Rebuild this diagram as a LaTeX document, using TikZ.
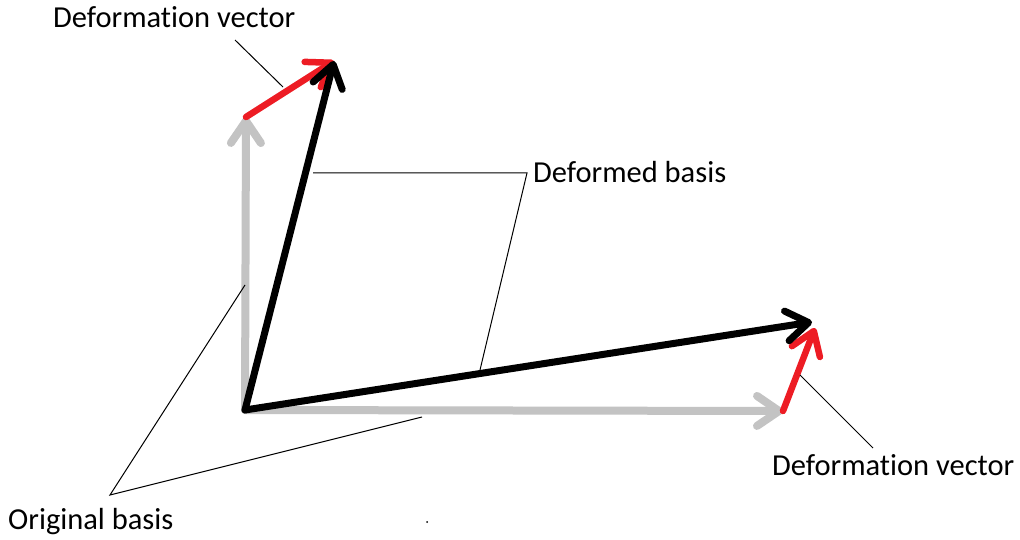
\documentclass[tikz,border=0pt]{standalone}
\usepackage{fontspec}
\setmainfont[Ligatures=NoCommon]{Carlito}
\usetikzlibrary{arrows.meta}
\definecolor{basisgray}{RGB}{195,195,195}
\definecolor{defred}{RGB}{237,28,36}
\begin{document}
\begin{tikzpicture}[x=1pt,y=-1pt,
  vec/.style={line width=6.5pt, line cap=round, -{Straight Barb[round,length=22pt,width=30pt]}},
  origvec/.style={vec, draw=basisgray, line width=8pt},
  defvec/.style={vec, draw=defred},
  newvec/.style={vec, draw=black, line width=7pt},
  leader/.style={draw=black, line width=1pt},
  lbl/.style={inner sep=0pt, anchor=base west, font=\fontsize{30.5}{36}\selectfont}]
\useasboundingbox (0,0) rectangle (1020,540);
\fill[white] (0,0) rectangle (1020,540);
% basis points
\coordinate (O) at (245,410);
\coordinate (e2) at (246,117);
\coordinate (e1) at (783,411);
\coordinate (d2) at (334,61);
\coordinate (d1) at (812,322);
\coordinate (r1) at (815,328);
% original basis
\draw[origvec] (O) -- (e2);
\draw[origvec] (O) -- (e1);
% deformation vectors
\draw[defvec] (e2) -- (d2);
\draw[defvec] (e1) -- (r1);
% deformed basis
\draw[newvec] (O) -- (d2);
\draw[newvec] (O) -- (d1);
% labels
\node[lbl] (t1) at (53,28) {Deformation vector};
\node[lbl] (t2) at (533,183) {Deformed basis};
\node[lbl] (t3) at (772,475) {Deformation vector};
\node[lbl] (t4) at (8,529) {Original basis};
% leader lines
\coordinate (k1a) at (235,40);
\coordinate (k1b) at (283,87);
\draw[leader] (k1a) -- (k1b);
\coordinate (k2a) at (313,173);
\coordinate (k2b) at (527,173);
\coordinate (k2c) at (480,370);
\draw[leader] (k2a) -- (k2b) -- (k2c);
\coordinate (k3a) at (800,375);
\coordinate (k3b) at (873,448);
\draw[leader] (k3a) -- (k3b);
\coordinate (k4a) at (245,285);
\coordinate (k4b) at (110,495);
\coordinate (k4c) at (422,417);
\draw[leader] (k4a) -- (k4b) -- (k4c);
\coordinate (dot) at (427,522);
\fill (dot) circle (1pt);
\end{tikzpicture}
\end{document}
